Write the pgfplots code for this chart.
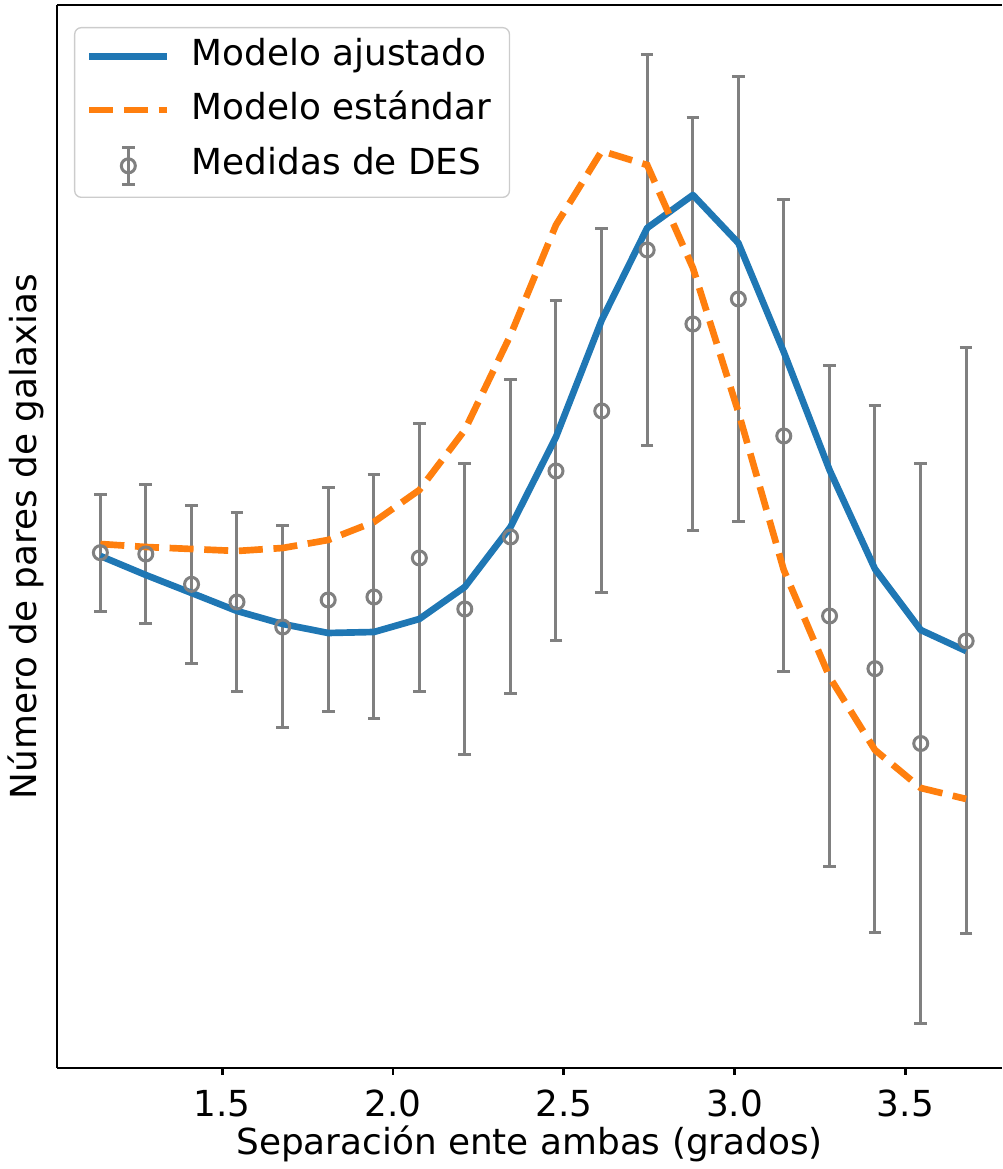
\documentclass[border=0pt]{standalone}
\usepackage{fontspec}
\setmainfont{DejaVu Sans}
\usepackage{pgfplots}
\pgfplotsset{compat=1.18}
\usepackage{pgfplotstable}
\usetikzlibrary{calc}
\definecolor{tabblue}{HTML}{1F77B4}
\definecolor{taborange}{HTML}{FF7F0E}
\definecolor{errgray}{HTML}{808080}

\pgfplotsset{
  linelegend/.style={legend image code/.code={\draw[##1] (0pt,0pt) -- (23.4pt,0pt);}},
  errlegend/.style={legend image code/.code={
   \draw[errgray, line width=0.9pt] (11.7pt,-5.5pt) -- (11.7pt,5.5pt);
   \draw[errgray, line width=0.9pt] (9.8pt,-5.5pt) -- (13.6pt,-5.5pt);
   \draw[errgray, line width=0.9pt] (9.8pt,5.5pt) -- (13.6pt,5.5pt);
   \draw[errgray, line width=0.9pt] (11.7pt,0pt) circle (2.1pt);
   \path[draw=none] (0pt,0pt) -- (23.4pt,0pt);}},
}

\pgfplotstableread{
x y e
1.143 515.3 58.4
1.276 514.0 69.5
1.410 483.7 79.2
1.543 466.0 89.5
1.677 441.0 101.0
1.810 468.0 112.0
1.944 471.0 122.0
2.077 510.0 134.0
2.210 459.0 145.5
2.344 531.0 157.0
2.477 597.0 170.0
2.611 657.0 182.0
2.744 818.0 195.5
2.878 744.0 206.5
3.011 769.0 222.5
3.144 632.0 236.0
3.278 452.0 250.5
3.411 399.3 263.5
3.545 324.5 280.0
3.678 427.0 293.0
}\meas

\pgfplotstableread{
x fit std
1.143 512 524
1.276 493 521
1.410 475 519
1.543 457 517
1.677 444 520
1.810 435 528
1.944 436 546
2.077 449 578
2.210 481 638
2.344 541 733
2.477 631 843
2.611 748 917
2.744 840 903
2.878 873 800
3.011 825 656
3.144 716 498
3.278 598 391
3.411 499 318
3.545 438 280
3.678 417 269
}\models

\begin{document}
\begin{tikzpicture}
\begin{axis}[
  scale only axis, width=283.5pt, height=318.9pt,
  xmin=1.016, xmax=3.783, ymin=0, ymax=1063,
  axis x line=box, axis y line=left,
  axis line style={-, line width=0.8pt, black},
  xtick={1.5,2,2.5,3,3.5}, xticklabels={1.5,2.0,2.5,3.0,3.5},
  ytick=\empty,
  xtick pos=left,
  tick align=outside, major tick length=2.1pt,
  tick style={black, line width=0.8pt},
  font=\fontsize{10.75}{13}\selectfont,
  xticklabel style={anchor=base, yshift=-12.6pt, font=\fontsize{10.75}{13}\selectfont},
  xlabel={Separación ente ambas (grados)},
  ylabel={Número de pares de galaxias},
  xlabel style={at={(axis description cs:0.5,0)}, anchor=base, yshift=-26pt},
  ylabel style={at={(axis description cs:-0.0127,0.5)}, anchor=south, inner sep=0pt},
  legend style={at={(axis description cs:0,1)}, anchor=north west, xshift=5.1pt, yshift=-6.6pt,
    draw=black!20, fill=white, fill opacity=0.8, text opacity=1, rounded corners=2pt,
    inner xsep=3.4pt, inner ysep=3.5pt, row sep=5.5pt, column sep=6.3pt,
    nodes={inner sep=0pt, text height=8pt, text depth=2.5pt},
    font=\fontsize{10.75}{13}\selectfont},
  legend cell align=left,
]
\addlegendimage{tabblue, line width=2pt, linelegend}
\addlegendentry{Modelo ajustado\rule{2pt}{0pt}}
\addlegendimage{taborange, line width=2pt, dash pattern=on 7.2pt off 3.2pt, linelegend}
\addlegendentry{Modelo estándar\rule{2pt}{0pt}}
\addlegendimage{errgray, errlegend}
\addlegendentry{Medidas de DES\rule{2pt}{0pt}}

\addplot[forget plot, only marks, mark=o, mark size=2.1pt, errgray,
  mark options={line width=0.9pt, errgray},
  error bars/.cd, y dir=both, y explicit,
  error bar style={line width=0.9pt, errgray},
  error mark options={rotate=90, mark size=1.9pt, line width=0.9pt, errgray}]
  table[x=x, y=y, y error=e] {\meas};
\addplot[forget plot, tabblue, line width=2pt, line join=round] table[x=x, y=fit] {\models};
\addplot[forget plot, taborange, line width=2pt, dash pattern=on 7.2pt off 3.2pt] table[x=x, y=std] {\models};

\coordinate (bl) at (rel axis cs:0,0);
\coordinate (tr) at (rel axis cs:1,1);
\end{axis}
\pgfresetboundingbox
\path ($(bl)+(-17.1pt,-30.3pt)$) rectangle ($(tr)+(0pt,1.5pt)$);
\end{tikzpicture}
\end{document}
